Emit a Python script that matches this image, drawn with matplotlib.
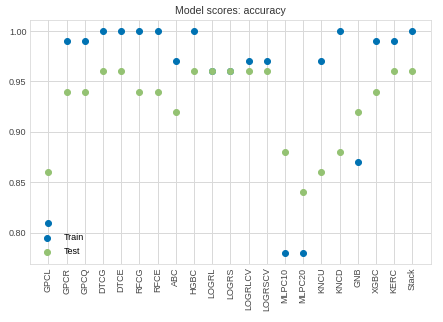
import matplotlib
matplotlib.use("Agg")
import matplotlib.pyplot as plt

models = ["GPCL", "GPCR", "GPCQ", "DTCG", "DTCE", "RFCG", "RFCE", "ABC", "HGBC",
          "LOGRL", "LOGRS", "LOGRLCV", "LOGRSCV", "MLPC10", "MLPC20", "KNCU",
          "KNCD", "GNB", "XGBC", "KERC", "Stack"]
train = [0.81, 0.99, 0.99, 1.00, 1.00, 1.00, 1.00, 0.97, 1.00,
         0.96, 0.96, 0.97, 0.97, 0.78, 0.78, 0.97,
         1.00, 0.87, 0.99, 0.99, 1.00]
test = [0.86, 0.94, 0.94, 0.96, 0.96, 0.94, 0.94, 0.92, 0.96,
        0.96, 0.96, 0.96, 0.96, 0.88, 0.84, 0.86,
        0.88, 0.92, 0.94, 0.96, 0.96]

plt.rcParams['font.family'] = ['Liberation Sans', 'DejaVu Sans']

fig, ax = plt.subplots(figsize=(443 / 72, 322 / 72), dpi=72)
x = list(range(len(models)))
ax.scatter(x, train, color="#0072B2", s=36, label="Train", zorder=3)
ax.scatter(x, test, color="#94C273", s=36, label="Test", zorder=3)

ax.set_xticks(x)
ax.set_xticklabels(models, rotation=90)
ax.set_yticks([0.80, 0.85, 0.90, 0.95, 1.00])
ax.set_yticklabels(["0.80", "0.85", "0.90", "0.95", "1.00"])
ax.tick_params(length=0, labelsize=9, colors="#444444")
ax.grid(True, color="#d9d9d9", linewidth=1)
ax.set_axisbelow(True)
for s in ax.spines.values():
    s.set_color("#d9d9d9")
ax.set_title("Model scores: accuracy", fontsize=10.5, color="#333333")
ax.legend(loc="lower left", frameon=False, fontsize=9)

fig.subplots_adjust(left=0.068, right=0.972, top=0.938, bottom=0.18)
plt.savefig("out.png")
